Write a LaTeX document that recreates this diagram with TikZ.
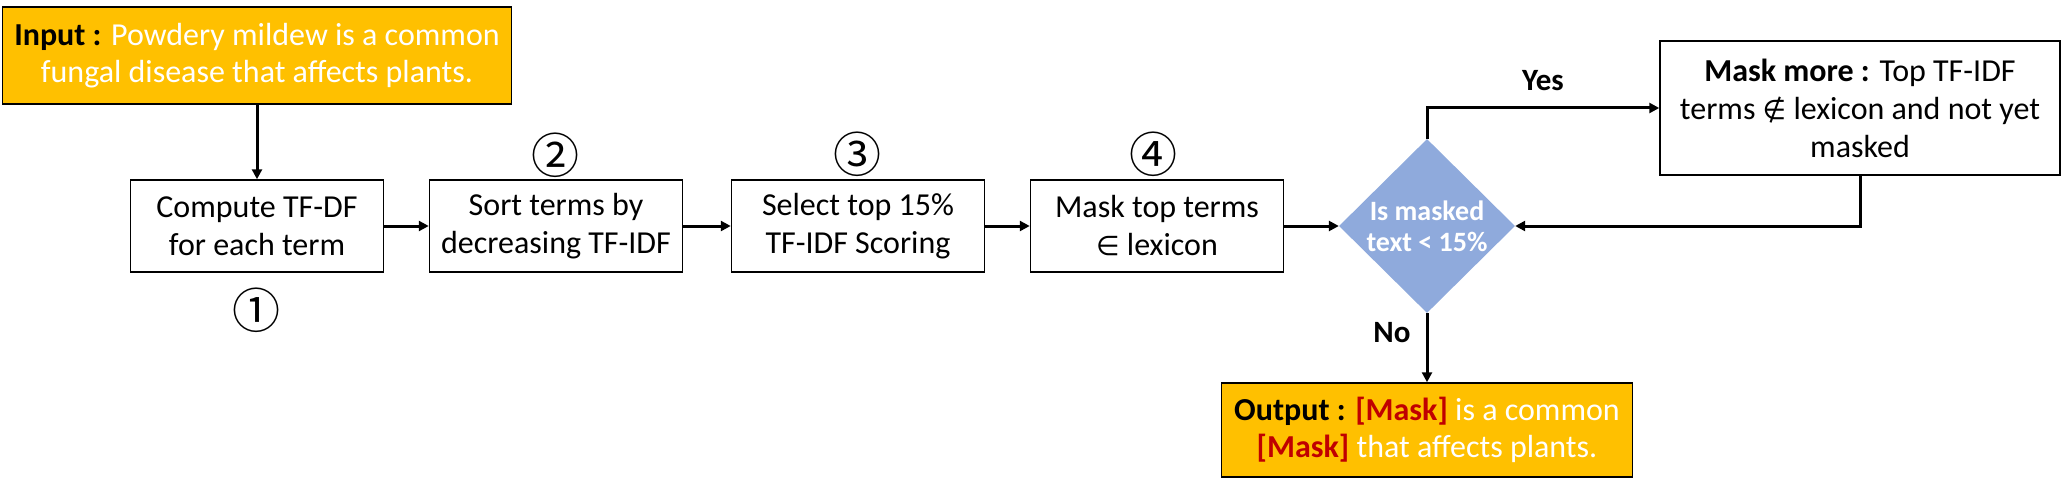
\documentclass[tikz,border=0pt]{standalone}
\usepackage{fontspec}
\setmainfont{Carlito}
\newfontfamily\dejavu{DejaVu Sans}
\newfontfamily\cjk{Noto Sans CJK SC}
\usetikzlibrary{shapes.geometric,arrows.meta}
\definecolor{gold}{HTML}{FFC000}
\definecolor{dblue}{HTML}{8FAADC}
\definecolor{mred}{HTML}{C00000}
\newcommand{\sym}[1]{{\dejavu\fontsize{27}{38}\selectfont #1}}
\begin{document}
\begin{tikzpicture}[x=1pt,y=-1pt,
  stepbox/.style={draw=black,line width=1.5pt,minimum width=253pt,minimum height=92pt,inner sep=0pt,align=center,font=\fontsize{32}{38}\selectfont},
  goldbox/.style={draw=black,line width=1.5pt,fill=gold,inner sep=0pt,align=center,text=white,font=\fontsize{32}{37}\selectfont},
  arr/.style={line width=3pt,-{Triangle[length=10pt,width=10pt]}},
  lbl/.style={font=\bfseries\fontsize{31}{31}\selectfont},
  num/.style={inner sep=0pt,font=\cjk\fontsize{48}{48}\selectfont}
]
\useasboundingbox (0,0) rectangle (2068,484);
\node[goldbox,minimum width=509pt,minimum height=97pt] (in) at (257,55.5)
  {\textcolor{black}{\textbf{Input :}} Powdery mildew is a common\\fungal disease that affects plants.};
\node[stepbox] (b1) at (257,226) {Compute TF-DF\\for each term};
\node[stepbox] (b2) at (556,226) {Sort terms by\\decreasing TF-IDF};
\node[stepbox] (b3) at (858,226) {Select top 15\%\\TF-IDF Scoring};
\node[stepbox] (b4) at (1157,226) {Mask top terms\\\sym{∈} lexicon};
\node[diamond,fill=dblue,minimum width=176pt,minimum height=174pt,inner sep=0pt,aspect=1,align=center,text=white,font=\bfseries\fontsize{28}{31}\selectfont] (d) at (1427,226) {Is masked\\text < 15\%};
\node[stepbox,minimum width=400pt,minimum height=134pt] (mm) at (1860,108)
  {\textbf{Mask more :} Top TF-IDF\\terms \sym{∉} lexicon and not yet\\masked};
\node[goldbox,minimum width=411pt,minimum height=94pt] (out) at (1427,430)
  {\textcolor{black}{\textbf{Output :}} \textcolor{mred}{\textbf{[Mask]}} is a common\\\textcolor{mred}{\textbf{[Mask]}} that affects plants.};
\node[num] (n1) at (256,310) {①};
\node[num] (n2) at (555,155) {②};
\node[num] (n3) at (857,154) {③};
\node[num] (n4) at (1153,154) {④};
\draw[arr] (in) -- (b1);
\draw[arr] (b1) -- (b2);
\draw[arr] (b2) -- (b3);
\draw[arr] (b3) -- (b4);
\draw[arr] (b4) -- (d);
\draw[arr] (d.north) |- (mm.west);
\draw[arr] (mm.south) |- (d.east);
\draw[arr] (d.south) -- (out.north);
\node[lbl] (yes) at (1543,81) {Yes};
\node[lbl] (no) at (1392,333) {No};
\end{tikzpicture}
\end{document}
